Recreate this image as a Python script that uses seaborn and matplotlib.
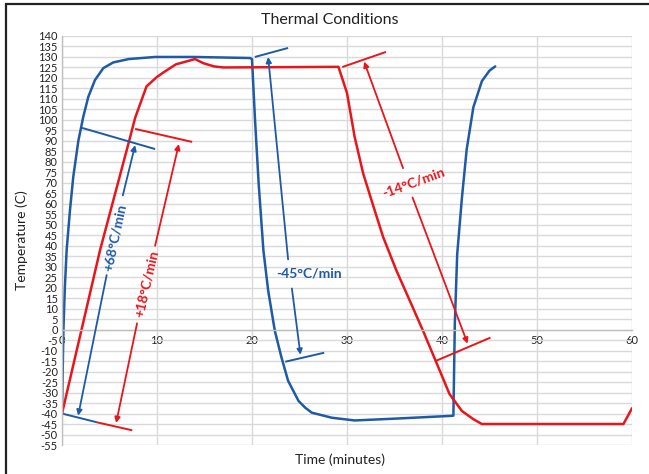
import matplotlib
matplotlib.use("Agg")
import matplotlib.pyplot as plt
import seaborn as sns
import pandas as pd
from matplotlib.patches import Rectangle

# dados
blue_x = [0, 0.07, 0.15, 0.3, 0.49, 0.84, 1.19, 1.72, 2.24, 2.77, 3.47, 4.35, 5.4, 7.0, 9.8, 14, 19.8,
          20.0, 20.3, 20.7, 21.2, 21.7, 22.4, 23.1, 23.8, 24.35, 24.9, 25.6, 26.3, 28.4, 30.8, 35.2, 41.0,
          41.2, 41.35, 41.6, 42.1, 42.6, 43.3, 44.2, 45.0, 45.6]
blue_y = [-40, -20, 0, 20, 38, 57, 73, 90, 101.5, 111, 119, 124.7, 127.4, 129, 130, 130, 129.5,
          129, 101.6, 69.7, 37.8, 18.7, -0.5, -13.2, -24.4, -29.2, -34, -37.2, -39.6, -42, -43.3, -42.4, -41.1,
          -41, 3, 36, 63, 86, 106, 118.5, 123.5, 125.5]

red_x = [0, 4.0, 7.0, 7.7, 8.9, 10, 10.8, 12, 14, 14.9, 16, 17, 29.1, 30.0, 30.8, 31.7, 32.8, 33.8,
         35.2, 36.6, 38.0, 39.4, 40.8, 42.1, 43.3, 44.2, 59.1, 60]
red_y = [-40, 37.8, 88.8, 101, 116, 120.5, 123, 126.5, 129, 127, 125.5, 125, 125.3, 112.8, 92, 74.5,
         58.5, 44.2, 28.2, 13.9, -0.5, -15.6, -30.8, -38.8, -42.7, -45, -45, -37.5]

# retas tangentes (x0, y0, x1, y1)
tangent_blue = [(0, -40, 3.7, -44.2), (2.1, 96.2, 9.8, 86.1), (20.3, 130, 23.8, 134.3), (23.5, -15.3, 27.6, -11)]
tangent_red = [(3.7, -44.2, 7.4, -48), (7.7, 95.7, 13.7, 89.5), (29.5, 125.2, 34.1, 132.4), (39.3, -15, 45.1, -3.8)]

# setas (cauda x, cauda y, ponta x, ponta y)
arrows_blue = [(6.4, 64, 7.7, 88), (4.7, 26, 1.7, -41), (23.8, 33.5, 21.7, 130), (24.2, 19.6, 25.1, -12)]
arrows_red = [(9.8, 40, 12.3, 88.5), (7.9, 3, 5.7, -44.5), (35.9, 77, 31.8, 127.8), (36.9, 63, 42.7, -6.7)]

# rótulos (texto, x, y, rotação)
labels_blue = [("+68°C/min", 5.6, 44, 78), ("-45°C/min", 26.0, 27, 0)]
labels_red = [("+18°C/min", 8.9, 22, 77), ("-14°C/min", 37.0, 70, 20)]

azul = "#1f5aa6"
vermelho = "#e8151b"

sns.set_theme(style="whitegrid")
plt.rcParams['font.family'] = ['Lato', 'DejaVu Sans']
plt.rcParams['axes.unicode_minus'] = False

df_azul = pd.DataFrame({"Tempo": blue_x, "Temperatura": blue_y})
df_verm = pd.DataFrame({"Tempo": red_x, "Temperatura": red_y})

fig = plt.figure(figsize=(6.49, 4.74), dpi=100)
ax = fig.add_axes([62 / 649, 1 - 445 / 474, 570 / 649, 409 / 474])

sns.lineplot(data=df_azul, x="Tempo", y="Temperatura", color=azul, linewidth=1.8,
             sort=False, estimator=None, ax=ax, solid_joinstyle="round")
sns.lineplot(data=df_verm, x="Tempo", y="Temperatura", color=vermelho, linewidth=1.8,
             sort=False, estimator=None, ax=ax, solid_joinstyle="round")

for lista, cor in [(tangent_blue, azul), (tangent_red, vermelho)]:
    for x0, y0, x1, y1 in lista:
        ax.plot([x0, x1], [y0, y1], color=cor, linewidth=1.4, solid_capstyle="butt")

for lista, cor in [(arrows_blue, azul), (arrows_red, vermelho)]:
    for x0, y0, x1, y1 in lista:
        ax.annotate("", xy=(x1, y1), xytext=(x0, y0),
                    arrowprops=dict(arrowstyle="-|>", color=cor, lw=1.3,
                                    mutation_scale=8, shrinkA=0, shrinkB=0))

for lista, cor in [(labels_blue, azul), (labels_red, vermelho)]:
    for txt, x, y, rot in lista:
        ax.text(x, y, txt, color=cor, fontsize=10, fontweight="bold",
                rotation=rot, ha="center", va="center", rotation_mode="anchor")

ax.set_xlim(0, 60)
ax.set_ylim(-55, 140)
ax.set_xticks(range(0, 61, 10))
ax.set_yticks(range(-55, 141, 5))
ax.grid(True, color="#d9d9d9", linewidth=1.0)
ax.set_axisbelow(True)

for s in ["top", "right"]:
    ax.spines[s].set_visible(False)
ax.spines["bottom"].set_position(("data", 0))
ax.spines["bottom"].set_color("#bfbfbf")
ax.spines["left"].set_color("#bfbfbf")
ax.spines["bottom"].set_linewidth(1.0)
ax.spines["left"].set_linewidth(1.0)
ax.tick_params(axis="both", length=0, labelsize=8, colors="#222222")
ax.tick_params(axis="x", pad=4)
ax.tick_params(axis="y", pad=3)

ax.set_xlabel("")
ax.set_ylabel("")
fig.text(340 / 649, 1 - 460 / 474, "Time (minutes)", ha="center", va="center", fontsize=10, color="#222222")
fig.text(22 / 649, 1 - 240 / 474, "Temperature (C)", ha="center", va="center", rotation=90,
         fontsize=10, color="#222222")
fig.text(330 / 649, 1 - 20 / 474, "Thermal Conditions", ha="center", va="center", fontsize=11.5,
         color="#222222")

# moldura da figura
fig.patches.append(Rectangle((6 / 649, -0.1), 2, 1.1 - 4 / 474, transform=fig.transFigure,
                             fill=False, edgecolor="#222222", linewidth=1.6))

fig.savefig("out.png", dpi=100)
